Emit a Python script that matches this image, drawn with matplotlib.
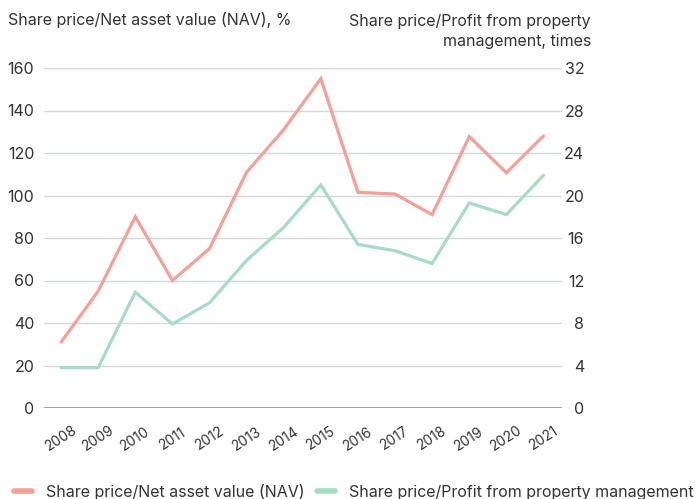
import matplotlib.pyplot as plt
import numpy as np

plt.rcParams['font.family'] = ['Inter', 'DejaVu Sans']

years = [2008, 2009, 2010, 2011, 2012, 2013, 2014, 2015, 2016, 2017, 2018, 2019, 2020, 2021]
nav_pct = [31, 55, 90, 60, 75, 111, 131, 155, 101.5, 100.7, 91, 127.7, 110.7, 128]
profit_times = [3.8, 3.8, 10.9, 7.9, 9.9, 13.9, 17.0, 21.0, 15.4, 14.8, 13.6, 19.3, 18.2, 21.9]

left_ticks = [0, 20, 40, 60, 80, 100, 120, 140, 160]
right_ticks = [0, 4, 8, 12, 16, 20, 24, 28, 32]

red = '#f4a097'
green = '#a5dcc3'
txt = '#333333'
fs = 11.5

fig = plt.figure(figsize=(6.99, 4.99), dpi=100)
ax = fig.add_axes([44/699, 1 - 408/499, 518/699, 340/499])

ax.set_xlim(2007.54, 2021.5)
ax.set_ylim(0, 160)
ax.set_yticks(left_ticks)
ax.set_xticks(years)
ax.set_xticklabels([str(y) for y in years], rotation=33, ha='center', va='center',
                   rotation_mode='anchor')

for v in left_ticks[1:]:
    ax.axhline(v, color='#d3d7de', lw=1, zorder=0)
ax.axhline(0, color='#8a93a0', lw=1.2, zorder=1)

for s in ax.spines.values():
    s.set_visible(False)
ax.tick_params(axis='y', length=0, pad=7, labelsize=fs, labelcolor=txt)
ax.tick_params(axis='x', length=0, pad=22, labelsize=10, labelcolor=txt)

l1, = ax.plot(years, nav_pct, color=red, lw=2.3, solid_capstyle='round', solid_joinstyle='miter',
              label='Share price/Net asset value (NAV)', zorder=3)

ax2 = ax.twinx()
ax2.set_ylim(0, 32)
ax2.set_yticks(right_ticks)
for s in ax2.spines.values():
    s.set_visible(False)
ax2.tick_params(axis='y', length=0, pad=16, labelsize=fs, labelcolor=txt)
for lab in ax2.get_yticklabels():
    lab.set_ha('right')
l2, = ax2.plot(years, profit_times, color=green, lw=2.3, solid_capstyle='round',
               solid_joinstyle='miter', label='Share price/Profit from property management', zorder=3)

fig.text(8/699, 1 - 20/499, 'Share price/Net asset value (NAV), %', ha='left', va='center',
         fontsize=fs, color=txt)
fig.text(591/699, 1 - 31.5/499, 'Share price/Profit from property\nmanagement, times', ha='right',
         va='center', fontsize=fs, color=txt, multialignment='right', linespacing=1.45)

leg = fig.legend(handles=[l1, l2], loc='center left', bbox_to_anchor=(14/699, 1 - 492/499),
                 ncol=2, frameon=False, fontsize=fs, handlelength=1.13, handletextpad=0.85,
                 columnspacing=0.8, borderaxespad=0, borderpad=0)
for h in leg.legend_handles:
    h.set_linewidth(4)
for t in leg.get_texts():
    t.set_color(txt)

fig.savefig('out.png', dpi=100)
